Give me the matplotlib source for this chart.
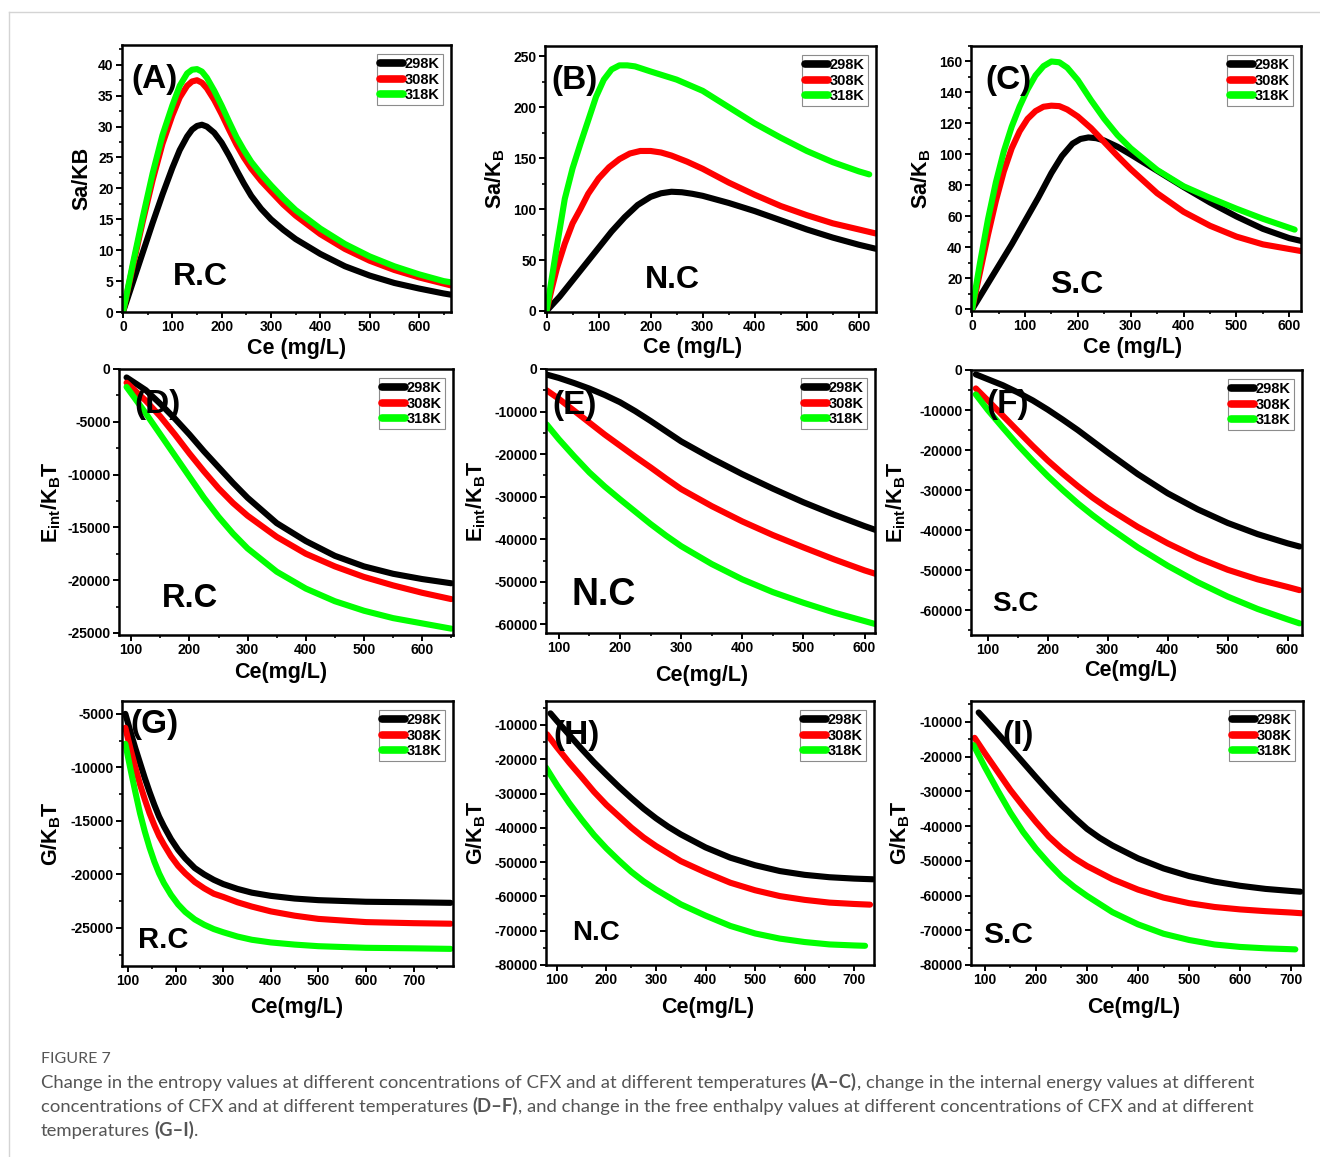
import matplotlib
matplotlib.use('Agg')
import matplotlib.pyplot as plt
from matplotlib.ticker import MultipleLocator, AutoMinorLocator
from matplotlib.lines import Line2D

plt.rcParams['font.family'] = ['Liberation Sans', 'DejaVu Sans']
plt.rcParams['font.weight'] = 'bold'
plt.rcParams['axes.labelweight'] = 'bold'
plt.rcParams['axes.unicode_minus'] = False

temps = ['298K', '308K', '318K']
colors = ['#000000', '#ff0000', '#00ff00']

# ---- (A) R.C entropy
a_x = [0, 20, 40, 60, 80, 100, 115, 130, 140, 150, 160, 170, 185, 200, 215, 230, 245, 260, 280, 300, 325, 350, 400, 450, 500, 550, 600, 650, 665]
a_298 = [0, 4.8, 9.6, 14.4, 19, 23.3, 26.2, 28.4, 29.5, 30.1, 30.3, 30.0, 29.0, 27.4, 25.3, 23.0, 20.8, 18.8, 16.7, 15.0, 13.3, 11.8, 9.4, 7.4, 5.9, 4.7, 3.8, 3.0, 2.8]
a_308 = [0, 7.4, 14.6, 21.3, 27.2, 31.8, 34.7, 36.6, 37.3, 37.5, 37.1, 36.2, 34.3, 32.0, 29.5, 27.1, 25.0, 23.2, 21.2, 19.5, 17.4, 15.6, 12.6, 10.2, 8.3, 6.8, 5.6, 4.6, 4.3]
a_318 = [0, 7.8, 15.3, 22.4, 28.6, 33.4, 36.6, 38.6, 39.2, 39.3, 38.9, 37.9, 35.8, 33.4, 30.8, 28.3, 26.2, 24.3, 22.3, 20.5, 18.4, 16.5, 13.5, 11.0, 9.0, 7.4, 6.1, 5.0, 4.8]

# ---- (B) N.C entropy
b_x298 = [0, 25, 50, 75, 100, 125, 150, 175, 200, 220, 240, 260, 280, 300, 350, 400, 450, 500, 550, 600, 633]
b_298 = [0, 14, 30, 46, 62, 78, 92, 104, 112, 115.5, 117, 116.5, 115, 113, 106, 98, 89, 80, 72, 65, 61]
b_x308 = [0, 10, 20, 35, 50, 65, 80, 100, 120, 140, 160, 180, 200, 220, 240, 270, 300, 350, 400, 450, 500, 550, 600, 633]
b_308 = [0, 22, 42, 66, 86, 100, 115, 130, 141, 149, 154.5, 157, 157, 155.5, 152.5, 146.5, 139.5, 126, 114, 103, 94, 86, 80, 76]
b_x318 = [0, 10, 20, 35, 50, 65, 80, 95, 110, 125, 140, 155, 170, 200, 250, 300, 350, 400, 450, 500, 550, 600, 620]
b_318 = [0, 32, 64, 110, 140, 164, 187, 210, 227, 237, 241, 241, 240, 235, 227, 216, 200, 184, 170, 157, 146, 137, 134]

# ---- (C) S.C entropy
c_x298 = [0, 25, 50, 75, 100, 125, 150, 170, 190, 205, 220, 235, 250, 275, 300, 350, 400, 450, 500, 550, 600, 625]
c_298 = [0, 14, 28, 42, 57, 72, 88, 99, 107, 110, 111, 110.5, 109, 105, 100, 89.5, 79, 69, 60, 52, 46, 44]
c_x308 = [0, 15, 30, 45, 60, 75, 90, 105, 120, 135, 150, 165, 180, 200, 225, 250, 275, 300, 350, 400, 450, 500, 550, 600, 625]
c_308 = [0, 24, 48, 70, 89, 104, 115, 123, 128, 130.8, 131.5, 131.2, 129, 124.5, 117, 108, 99, 90.5, 75, 63, 54, 47, 42, 39, 37.5]
c_x318 = [0, 15, 30, 45, 60, 75, 90, 105, 120, 135, 150, 165, 180, 200, 225, 250, 275, 300, 350, 400, 450, 500, 550, 610]
c_318 = [0, 30, 58, 82, 102, 118, 131, 142, 151, 157, 160, 159.5, 156, 148, 135, 123, 112.5, 104, 90, 79.5, 72, 65, 58.5, 51.5]

# ---- (D) R.C internal energy
d_x = [92, 125, 150, 175, 200, 225, 250, 275, 300, 350, 400, 450, 500, 550, 600, 650]
d_298 = [-800, -2000, -3300, -4700, -6200, -7800, -9300, -10800, -12200, -14600, -16300, -17700, -18700, -19400, -19900, -20300]
d_308 = [-1300, -3000, -4500, -6200, -8000, -9700, -11300, -12700, -13900, -15900, -17500, -18700, -19700, -20500, -21200, -21800]
d_318 = [-1700, -4200, -6200, -8200, -10200, -12200, -14000, -15600, -17000, -19200, -20800, -22000, -22900, -23600, -24100, -24600]

# ---- (E) N.C internal energy
e_x = [80, 100, 125, 150, 175, 200, 225, 250, 275, 300, 350, 400, 450, 500, 550, 600, 620]
e_298 = [-1300, -2100, -3300, -4600, -6100, -7800, -9900, -12200, -14600, -17000, -21000, -24700, -28100, -31300, -34200, -36900, -37900]
e_308 = [-5000, -7000, -9800, -12600, -15400, -18000, -20600, -23100, -25700, -28200, -32200, -35800, -39000, -41900, -44700, -47300, -48200]
e_318 = [-13000, -16500, -20500, -24300, -27600, -30600, -33500, -36400, -39100, -41600, -45800, -49400, -52400, -54900, -57200, -59200, -60000]

# ---- (F) S.C internal energy
f_x = [80, 100, 125, 150, 175, 200, 225, 250, 275, 300, 350, 400, 450, 500, 550, 600, 620]
f_298 = [-1100, -2300, -3800, -5600, -7600, -9900, -12400, -15000, -17800, -20600, -26000, -30800, -34800, -38200, -41000, -43300, -44100]
f_308 = [-4600, -7600, -11400, -15200, -19000, -22600, -25900, -29000, -31900, -34500, -39200, -43300, -46900, -49900, -52300, -54200, -55000]
f_318 = [-6100, -10000, -14400, -18700, -22700, -26500, -30000, -33300, -36300, -39100, -44300, -48900, -53000, -56600, -59700, -62300, -63300]

# ---- (G) R.C free enthalpy
g_x = [94, 105, 115, 125, 135, 145, 155, 165, 175, 190, 205, 220, 240, 260, 280, 300, 330, 360, 400, 450, 500, 600, 700, 778]
g_298 = [-5000, -6700, -8200, -9600, -11000, -12300, -13500, -14600, -15500, -16700, -17700, -18500, -19400, -20000, -20500, -20900, -21350, -21700, -22000, -22250, -22400, -22550, -22600, -22650]
g_308 = [-6300, -8300, -10000, -11600, -13000, -14300, -15400, -16400, -17200, -18300, -19200, -19900, -20700, -21300, -21800, -22100, -22600, -23000, -23450, -23850, -24150, -24450, -24550, -24600]
g_318 = [-7800, -10200, -12300, -14300, -16000, -17500, -18800, -19900, -20800, -21900, -22800, -23500, -24200, -24700, -25100, -25400, -25800, -26100, -26350, -26550, -26700, -26850, -26900, -26950]

# ---- (H) N.C free enthalpy
h_x298 = [87, 100, 125, 150, 175, 200, 225, 250, 275, 300, 325, 350, 400, 450, 500, 550, 600, 650, 700, 738]
h_298 = [-6600, -8800, -12900, -17000, -20900, -24500, -28000, -31300, -34400, -37200, -39700, -41900, -45700, -48700, -50900, -52600, -53700, -54400, -54800, -55000]
h_x308 = [80, 100, 125, 150, 175, 200, 225, 250, 275, 300, 350, 400, 450, 500, 550, 600, 650, 700, 732]
h_308 = [-12700, -16500, -21000, -25200, -29500, -33300, -36600, -39900, -42800, -45300, -49700, -53000, -56000, -58200, -59900, -61000, -61800, -62200, -62400]
h_x318 = [78, 100, 125, 150, 175, 200, 225, 250, 275, 300, 350, 400, 450, 500, 550, 600, 650, 700, 722]
h_318 = [-22400, -27500, -32800, -37600, -42100, -46000, -49500, -52800, -55600, -58000, -62300, -65600, -68600, -70800, -72300, -73300, -74000, -74300, -74400]

# ---- (I) S.C free enthalpy
i_x298 = [88, 100, 125, 150, 175, 200, 225, 250, 275, 300, 325, 350, 400, 450, 500, 550, 600, 650, 700, 718]
i_298 = [-7300, -9200, -13300, -17500, -21700, -25900, -30000, -33900, -37500, -40800, -43400, -45600, -49300, -52200, -54400, -56000, -57200, -58100, -58700, -58900]
i_x308 = [80, 100, 125, 150, 175, 200, 225, 250, 275, 300, 350, 400, 450, 500, 550, 600, 650, 700, 720]
i_308 = [-14600, -19000, -24300, -29600, -34300, -38800, -43000, -46400, -49200, -51500, -55300, -58300, -60600, -62200, -63300, -64000, -64500, -64900, -65100]
i_x318 = [78, 100, 125, 150, 175, 200, 225, 250, 275, 300, 350, 400, 450, 500, 550, 600, 650, 708]
i_318 = [-16700, -23000, -29700, -36100, -41700, -46500, -50700, -54500, -57500, -60100, -64800, -68300, -71000, -72800, -74100, -74800, -75200, -75500]

sa_lab = 'Sa/K$_\\mathregular{B}$'
e_lab = 'E$_\\mathregular{int}$/K$_\\mathregular{B}$T'
g_lab = 'G/K$_\\mathregular{B}$T'

W, H = 1320, 1157
fig = plt.figure(figsize=(W / 100, H / 100), dpi=100)


def px_axes(x0, y0, x1, y1):
    return fig.add_axes([x0 / W, 1 - y1 / H, (x1 - x0) / W, (y1 - y0) / H])


panels = [
    # box, series, xlim, ylim, xstep, ystep, letter, letter pos, mat, mat pos, mat size, ylabel, ylab x, xlabel, xlab pos
    ((122, 45, 451, 312), [(a_x, a_298), (a_x, a_308), (a_x, a_318)], (-2, 665), (0, 43.2), 100, 5,
     '(A)', (0.03, 0.87), 'R.C', (0.155, 0.13), 23, 'Sa/KB', -0.091, 'Ce (mg/L)', (0.53, -0.097)),
    ((545, 46, 876, 312), [(b_x298, b_298), (b_x308, b_308), (b_x318, b_318)], (-3, 633), (-1, 260), 100, 50,
     '(B)', (0.02, 0.87), 'N.C', (0.302, 0.12), 23, sa_lab, -0.115, 'Ce (mg/L)', (0.447, -0.094)),
    ((971, 46, 1301, 311), [(c_x298, c_298), (c_x308, c_308), (c_x318, c_318)], (-2, 622), (-1, 170), 100, 20,
     '(C)', (0.045, 0.87), 'S.C', (0.24, 0.098), 23, sa_lab, -0.115, 'Ce (mg/L)', (0.49, -0.10)),
    ((119, 369, 453, 635), [(d_x, d_298), (d_x, d_308), (d_x, d_318)], (79, 653), (-25200, 0), 100, 5000,
     '(D)', (0.045, 0.865), 'R.C', (0.129, 0.139), 23.5, e_lab, -0.168, 'Ce(mg/L)', (0.485, -0.10)),
    ((546, 369, 875, 633), [(e_x, e_298), (e_x, e_308), (e_x, e_318)], (79, 617), (-62000, 0), 100, 10000,
     '(E)', (0.018, 0.86), 'N.C', (0.079, 0.144), 27, e_lab, -0.176, 'Ce(mg/L)', (0.474, -0.12)),
    ((971, 370, 1302, 635), [(f_x, f_298), (f_x, f_308), (f_x, f_318)], (72, 624), (-66200, 0), 100, 10000,
     '(F)', (0.045, 0.87), 'S.C', (0.064, 0.117), 20, e_lab, -0.19, 'Ce(mg/L)', (0.483, -0.094)),
    ((122, 701, 453, 966), [(g_x, g_298), (g_x, g_308), (g_x, g_318)], (87, 783), (-28550, -3800), 100, 5000,
     '(G)', (0.024, 0.91), 'R.C', (0.048, 0.098), 21, g_lab, -0.178, 'Ce(mg/L)', (0.528, -0.117)),
    ((546, 701, 874, 965), [(h_x298, h_298), (h_x308, h_308), (h_x318, h_318)], (78, 740), (-80000, -3000), 100, 10000,
     '(H)', (0.024, 0.87), 'N.C', (0.079, 0.121), 20, g_lab, -0.177, 'Ce(mg/L)', (0.494, -0.121)),
    ((971, 701, 1303, 965), [(i_x298, i_298), (i_x308, i_308), (i_x318, i_318)], (73, 723), (-80000, -4000), 100, 10000,
     '(I)', (0.096, 0.87), 'S.C', (0.036, 0.114), 21.5, g_lab, -0.178, 'Ce(mg/L)', (0.491, -0.121)),
]

for (box, series, xlim, ylim, xstep, ystep, letter, lpos, mat, mpos, msize,
     ylab, ylx, xlab, xlpos) in panels:
    ax = px_axes(*box)
    for (xs, ys), c, t in zip(series, colors, temps):
        ax.plot(xs, ys, color=c, lw=4.4, solid_capstyle='round',
                solid_joinstyle='round', label=t)
    ax.set_xlim(xlim)
    ax.set_ylim(ylim)
    ax.xaxis.set_major_locator(MultipleLocator(xstep))
    ax.yaxis.set_major_locator(MultipleLocator(ystep))
    ax.xaxis.set_minor_locator(AutoMinorLocator(2))
    ax.yaxis.set_minor_locator(AutoMinorLocator(2))
    ax.tick_params(which='major', direction='out', length=4, width=1.4, labelsize=10, pad=2)
    ax.tick_params(which='minor', direction='out', length=2.5, width=1.2)
    for lab in ax.get_xticklabels() + ax.get_yticklabels():
        lab.set_fontweight('bold')
    for s in ax.spines.values():
        s.set_linewidth(1.8)
    ax.set_ylabel(ylab, fontsize=15.5, fontweight='bold')
    ax.yaxis.set_label_coords(ylx, 0.5)
    ax.set_xlabel(xlab, fontsize=15.5, fontweight='bold')
    ax.xaxis.set_label_coords(*xlpos)
    ax.text(lpos[0], lpos[1], letter, transform=ax.transAxes, fontsize=24,
            fontweight='bold', ha='left', va='center')
    ax.text(mpos[0], mpos[1], mat, transform=ax.transAxes, fontsize=msize,
            fontweight='bold', ha='left', va='center')
    handles = [Line2D([], [], color=c, lw=5.5, solid_capstyle='round') for c in colors]
    leg = ax.legend(handles, temps, loc='upper right', bbox_to_anchor=(0.975, 0.965),
                    prop={'size': 10.5, 'weight': 'bold'}, handlelength=1.6,
                    handletextpad=0.1, borderpad=0.2, labelspacing=0.1,
                    borderaxespad=0, fancybox=False, framealpha=1, edgecolor='0.55')
    leg.get_frame().set_linewidth(0.8)

# outer frame of the figure panel
fig.add_artist(Line2D([9 / W, 1], [1 - 12 / H, 1 - 12 / H], color='#d4d4d4', lw=1))
fig.add_artist(Line2D([9 / W, 9 / W], [1 - 12 / H, 0], color='#d4d4d4', lw=1))

# caption
cap = dict(family=['Lato', 'DejaVu Sans'], color='#555555', fontsize=13.3)
fig.text(41 / W, 1 - 1063 / H, 'FIGURE 7', family=['Lato', 'DejaVu Sans'],
         color='#555555', fontsize=11.5, weight='normal')

cap_lines = [
    (1088, [('Change in the entropy values at different concentrations of CFX and at different temperatures', 'normal', 0),
            ('(A\u2013C)', 'bold', 3.3),
            (', change in the internal energy values at different', 'normal', 0)]),
    (1112, [('concentrations of CFX and at different temperatures', 'normal', 0),
            ('(D\u2013F)', 'bold', 3.3),
            (', and change in the free enthalpy values at different concentrations of CFX and at different', 'normal', 0)]),
    (1136, [('temperatures', 'normal', 0),
            ('(G\u2013I)', 'bold', 3.3),
            ('.', 'normal', 0)]),
]
for yb, parts in cap_lines:
    t = fig.text(41 / W, 1 - yb / H, parts[0][0], weight=parts[0][1], va='baseline', **cap)
    for s, w, gap in parts[1:]:
        t = fig.add_artist(plt.Annotation(s, xy=(1, 0), xycoords=t, xytext=(gap, 0),
                                          textcoords='offset points', va='bottom',
                                          weight=w, **cap))

fig.savefig('out.png', dpi=100)
